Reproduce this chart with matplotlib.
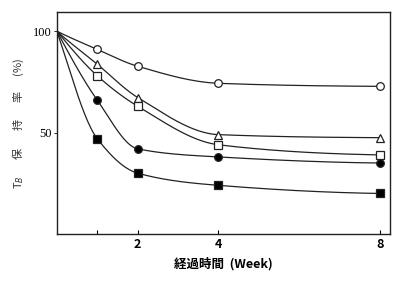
import numpy as np
import matplotlib
matplotlib.use("Agg")
import matplotlib.pyplot as plt

plt.rcParams['font.family'] = ['Noto Sans CJK JP', 'DejaVu Sans']

# 経過時間 (week)
weeks = [0, 1, 2, 4, 8]

# 保持率 (%) - 各系列
open_circle = [100, 91, 82.7, 74.3, 72.8]
open_triangle = [100, 83.7, 67.3, 49, 47.5]
open_square = [100, 78, 63, 44, 39]
filled_circle = [100, 66, 42, 38, 35]
filled_square = [100, 47, 30, 24, 20]

xticks = [1, 2, 4, 8]
xticklabels = ['', '2', '4', '8']
yticks = [50, 100]


def pchip(x, y, n=200):
    # 単調3次補間 (線を滑らかにするため)
    x = np.asarray(x, float)
    y = np.asarray(y, float)
    h = np.diff(x)
    d = np.diff(y) / h
    m = np.zeros_like(y)
    for k in range(1, len(x) - 1):
        if d[k - 1] * d[k] > 0:
            w1 = 2 * h[k] + h[k - 1]
            w2 = h[k] + 2 * h[k - 1]
            m[k] = (w1 + w2) / (w1 / d[k - 1] + w2 / d[k])
    m[0] = d[0] * 1.1
    m[-1] = d[-1] * 0.3
    xs = np.linspace(x[0], x[-1], n)
    ys = np.empty_like(xs)
    for i, xv in enumerate(xs):
        k = min(np.searchsorted(x, xv, side='right') - 1, len(x) - 2)
        t = (xv - x[k]) / h[k]
        h00 = 2 * t**3 - 3 * t**2 + 1
        h10 = t**3 - 2 * t**2 + t
        h01 = -2 * t**3 + 3 * t**2
        h11 = t**3 - t**2
        ys[i] = h00 * y[k] + h10 * h[k] * m[k] + h01 * y[k + 1] + h11 * h[k] * m[k + 1]
    return xs, ys


fig = plt.figure(figsize=(4.12, 2.83), dpi=100)
ax = fig.add_axes([0.138, 0.173, 0.809, 0.785])

series = [
    (open_circle, 'o', 'white'),
    (open_triangle, '^', 'white'),
    (open_square, 's', 'white'),
    (filled_circle, 'o', 'black'),
    (filled_square, 's', 'black'),
]
for vals, mk, fc in series:
    xs, ys = pchip(weeks, vals)
    ax.plot(xs, ys, color='#222222', lw=0.9)
    ax.plot(weeks[1:], vals[1:], linestyle='none', marker=mk, ms=5.5,
            mfc=fc, mec='#222222', mew=0.9)

ax.set_xlim(0, 8.25)
ax.set_ylim(0, 109.5)
ax.set_xticks(xticks)
ax.set_xticklabels(xticklabels, fontsize=9, fontweight='bold')
ax.set_yticks(yticks)
ax.set_yticklabels(['50', '100'], fontsize=9, family='Liberation Serif')
ax.tick_params(axis='x', direction='in', length=3, width=0.8, pad=3)
ax.tick_params(axis='y', direction='out', length=2, width=0.6, pad=2)
for s in ax.spines.values():
    s.set_linewidth(1.0)
    s.set_color('#222222')

ax.set_xlabel('経過時間  (Week)', fontsize=9, fontweight='bold', labelpad=4)
ax.set_ylabel('T$_{B}$       保       持       率      (%)', fontsize=8, labelpad=5,
              color='#333333')

fig.savefig('out.png', dpi=100)
